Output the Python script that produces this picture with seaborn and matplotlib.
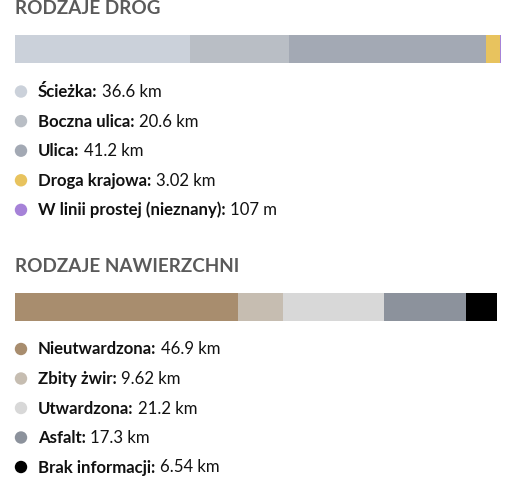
import matplotlib
matplotlib.use("Agg")
import numpy as np
import pandas as pd
import seaborn as sns
import matplotlib.pyplot as plt
from matplotlib.transforms import offset_copy

# ---- data ----
road_labels = ["Ścieżka", "Boczna ulica", "Ulica", "Droga krajowa", "W linii prostej (nieznany)"]
road_km = [36.6, 20.6, 41.2, 3.02, 0.107]
road_text = ["36.6 km", "20.6 km", "41.2 km", "3.02 km", "107 m"]
road_colors = ["#cbd1da", "#b9bec5", "#a3a9b4", "#e8c35e", "#a682d8"]

surface_labels = ["Nieutwardzona", "Zbity żwir", "Utwardzona", "Asfalt", "Brak informacji"]
surface_km = [46.9, 9.62, 21.2, 17.3, 6.54]
surface_text = ["46.9 km", "9.62 km", "21.2 km", "17.3 km", "6.54 km"]
surface_colors = ["#a88d6e", "#c6bdb1", "#d8d8d8", "#8c929c", "#000000"]

titles = ["RODZAJE DRÓG", "RODZAJE NAWIERZCHNI"]

sns.set_theme(style="white")
plt.rcParams["font.family"] = ["Lato", "DejaVu Sans"]

W, H = 515, 500
fig = plt.figure(figsize=(W / 100, H / 100), dpi=100)


def px_axes(l, t, r, b):
    return fig.add_axes([l / W, 1 - b / H, (r - l) / W, (b - t) / H])


def stacked(ax, vals, colors):
    cum = np.cumsum(vals)
    for i in reversed(range(len(vals))):
        sns.barplot(x=[cum[i]], y=[0], orient="h", color=colors[i], width=1.0,
                    saturation=1, linewidth=0, ax=ax)
    ax.set_xlim(0, cum[-1])
    ax.set_ylim(0.5, -0.5)
    ax.axis("off")


def legend(ax, labels, texts, colors):
    n = len(labels)
    df = pd.DataFrame({"x": [21] * n, "y": list(range(n)), "label": labels})
    sns.scatterplot(data=df, x="x", y="y", hue="label", palette=colors, s=80,
                    linewidth=0, legend=False, ax=ax)
    ax.set_xlim(0, W)
    ax.set_ylim(n - 0.5, -0.5)
    ax.axis("off")
    tr = offset_copy(ax.transData, fig=fig, x=0, y=-5.5, units="dots")
    for i in range(n):
        t = ax.text(38, i, labels[i] + ":", fontsize=12.1, fontweight="bold",
                    color="#111111", va="baseline", ha="left", transform=tr)
        ax.annotate(texts[i], xy=(1, 0), xycoords=t, xytext=(4.5, 0),
                    textcoords="offset pixels", fontsize=12.1, color="#111111",
                    va="bottom", ha="left")


# titles
fig.text(15 / W, 1 - 14.5 / H, titles[0], fontsize=13.6, fontweight="bold",
         color="#5a5a5a", va="baseline", ha="left")
fig.text(15 / W, 1 - 272 / H, titles[1], fontsize=13.6, fontweight="bold",
         color="#5a5a5a", va="baseline", ha="left")

# bars
stacked(px_axes(15, 35, 501, 63), road_km, road_colors)
stacked(px_axes(15, 293, 497, 321), surface_km, surface_colors)

# legends
legend(px_axes(0, 91.5 - 14.75, W, 91.5 + 4 * 29.6 + 14.75), road_labels, road_text, road_colors)
legend(px_axes(0, 349 - 14.75, W, 349 + 4 * 29.5 + 14.75), surface_labels, surface_text, surface_colors)

fig.savefig("out.png", dpi=100)
